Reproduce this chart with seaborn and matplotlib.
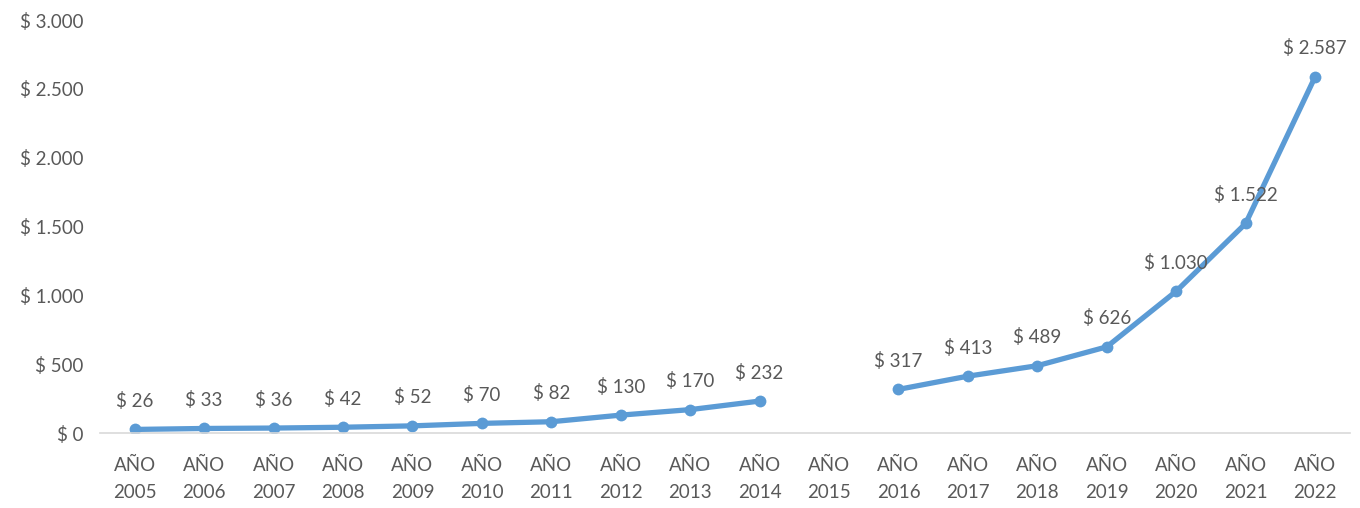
import numpy as np
import pandas as pd
import matplotlib
matplotlib.use("Agg")
import matplotlib.pyplot as plt
import seaborn as sns

# Valores anuales (2015 sin dato)
anios = [2005, 2006, 2007, 2008, 2009, 2010, 2011, 2012, 2013, 2014,
         2015, 2016, 2017, 2018, 2019, 2020, 2021, 2022]
valores = [26, 33, 36, 42, 52, 70, 82, 130, 170, 232,
           np.nan, 317, 413, 489, 626, 1030, 1522, 2587]
etiquetas_x = [f"AÑO\n{a}" for a in anios]
ticks_y = [0, 500, 1000, 1500, 2000, 2500, 3000]

sns.set_theme(style="white")
plt.rcParams["font.family"] = ["Lato", "DejaVu Sans"]

AZUL = "#5B9BD5"
GRIS_TEXTO = "#595959"
TAM = 13.5

def miles(v):
    return f"$ {int(round(v)):,}".replace(",", ".")

df = pd.DataFrame({"pos": np.arange(len(anios)), "valor": valores})
# Tramos continuos separados por el año sin dato
df["tramo"] = df["valor"].isna().cumsum()
df = df.dropna()

fig = plt.figure(figsize=(13.6, 5.08), dpi=100)
ax = fig.add_axes([0.0735, 0.1476, 0.919, 0.813])

sns.lineplot(data=df, x="pos", y="valor", units="tramo", estimator=None,
             color=AZUL, linewidth=3.8, marker="o", markersize=8.5,
             markeredgewidth=0, ax=ax)

for x, v in zip(df["pos"], df["valor"]):
    ax.annotate(miles(v), (x, v), xytext=(0, 14), textcoords="offset points",
                ha="center", va="bottom", fontsize=TAM, color=GRIS_TEXTO)

ax.set_xlim(-0.5, len(anios) - 0.5)
ax.set_ylim(0, 3000)
ax.set_xticks(np.arange(len(anios)))
ax.set_xticklabels(etiquetas_x, fontsize=TAM, color=GRIS_TEXTO, linespacing=1.7)
ax.set_yticks(ticks_y)
ax.set_yticklabels([miles(t) for t in ticks_y], fontsize=TAM, color=GRIS_TEXTO)
ax.tick_params(axis="both", length=0)
ax.tick_params(axis="y", pad=12)
ax.tick_params(axis="x", pad=17)
ax.set_xlabel("")
ax.set_ylabel("")

for lado in ["top", "right", "left"]:
    ax.spines[lado].set_visible(False)
ax.spines["bottom"].set_color("#D9D9D9")
ax.spines["bottom"].set_linewidth(1.2)

fig.savefig("out.png", dpi=100, facecolor="white")
